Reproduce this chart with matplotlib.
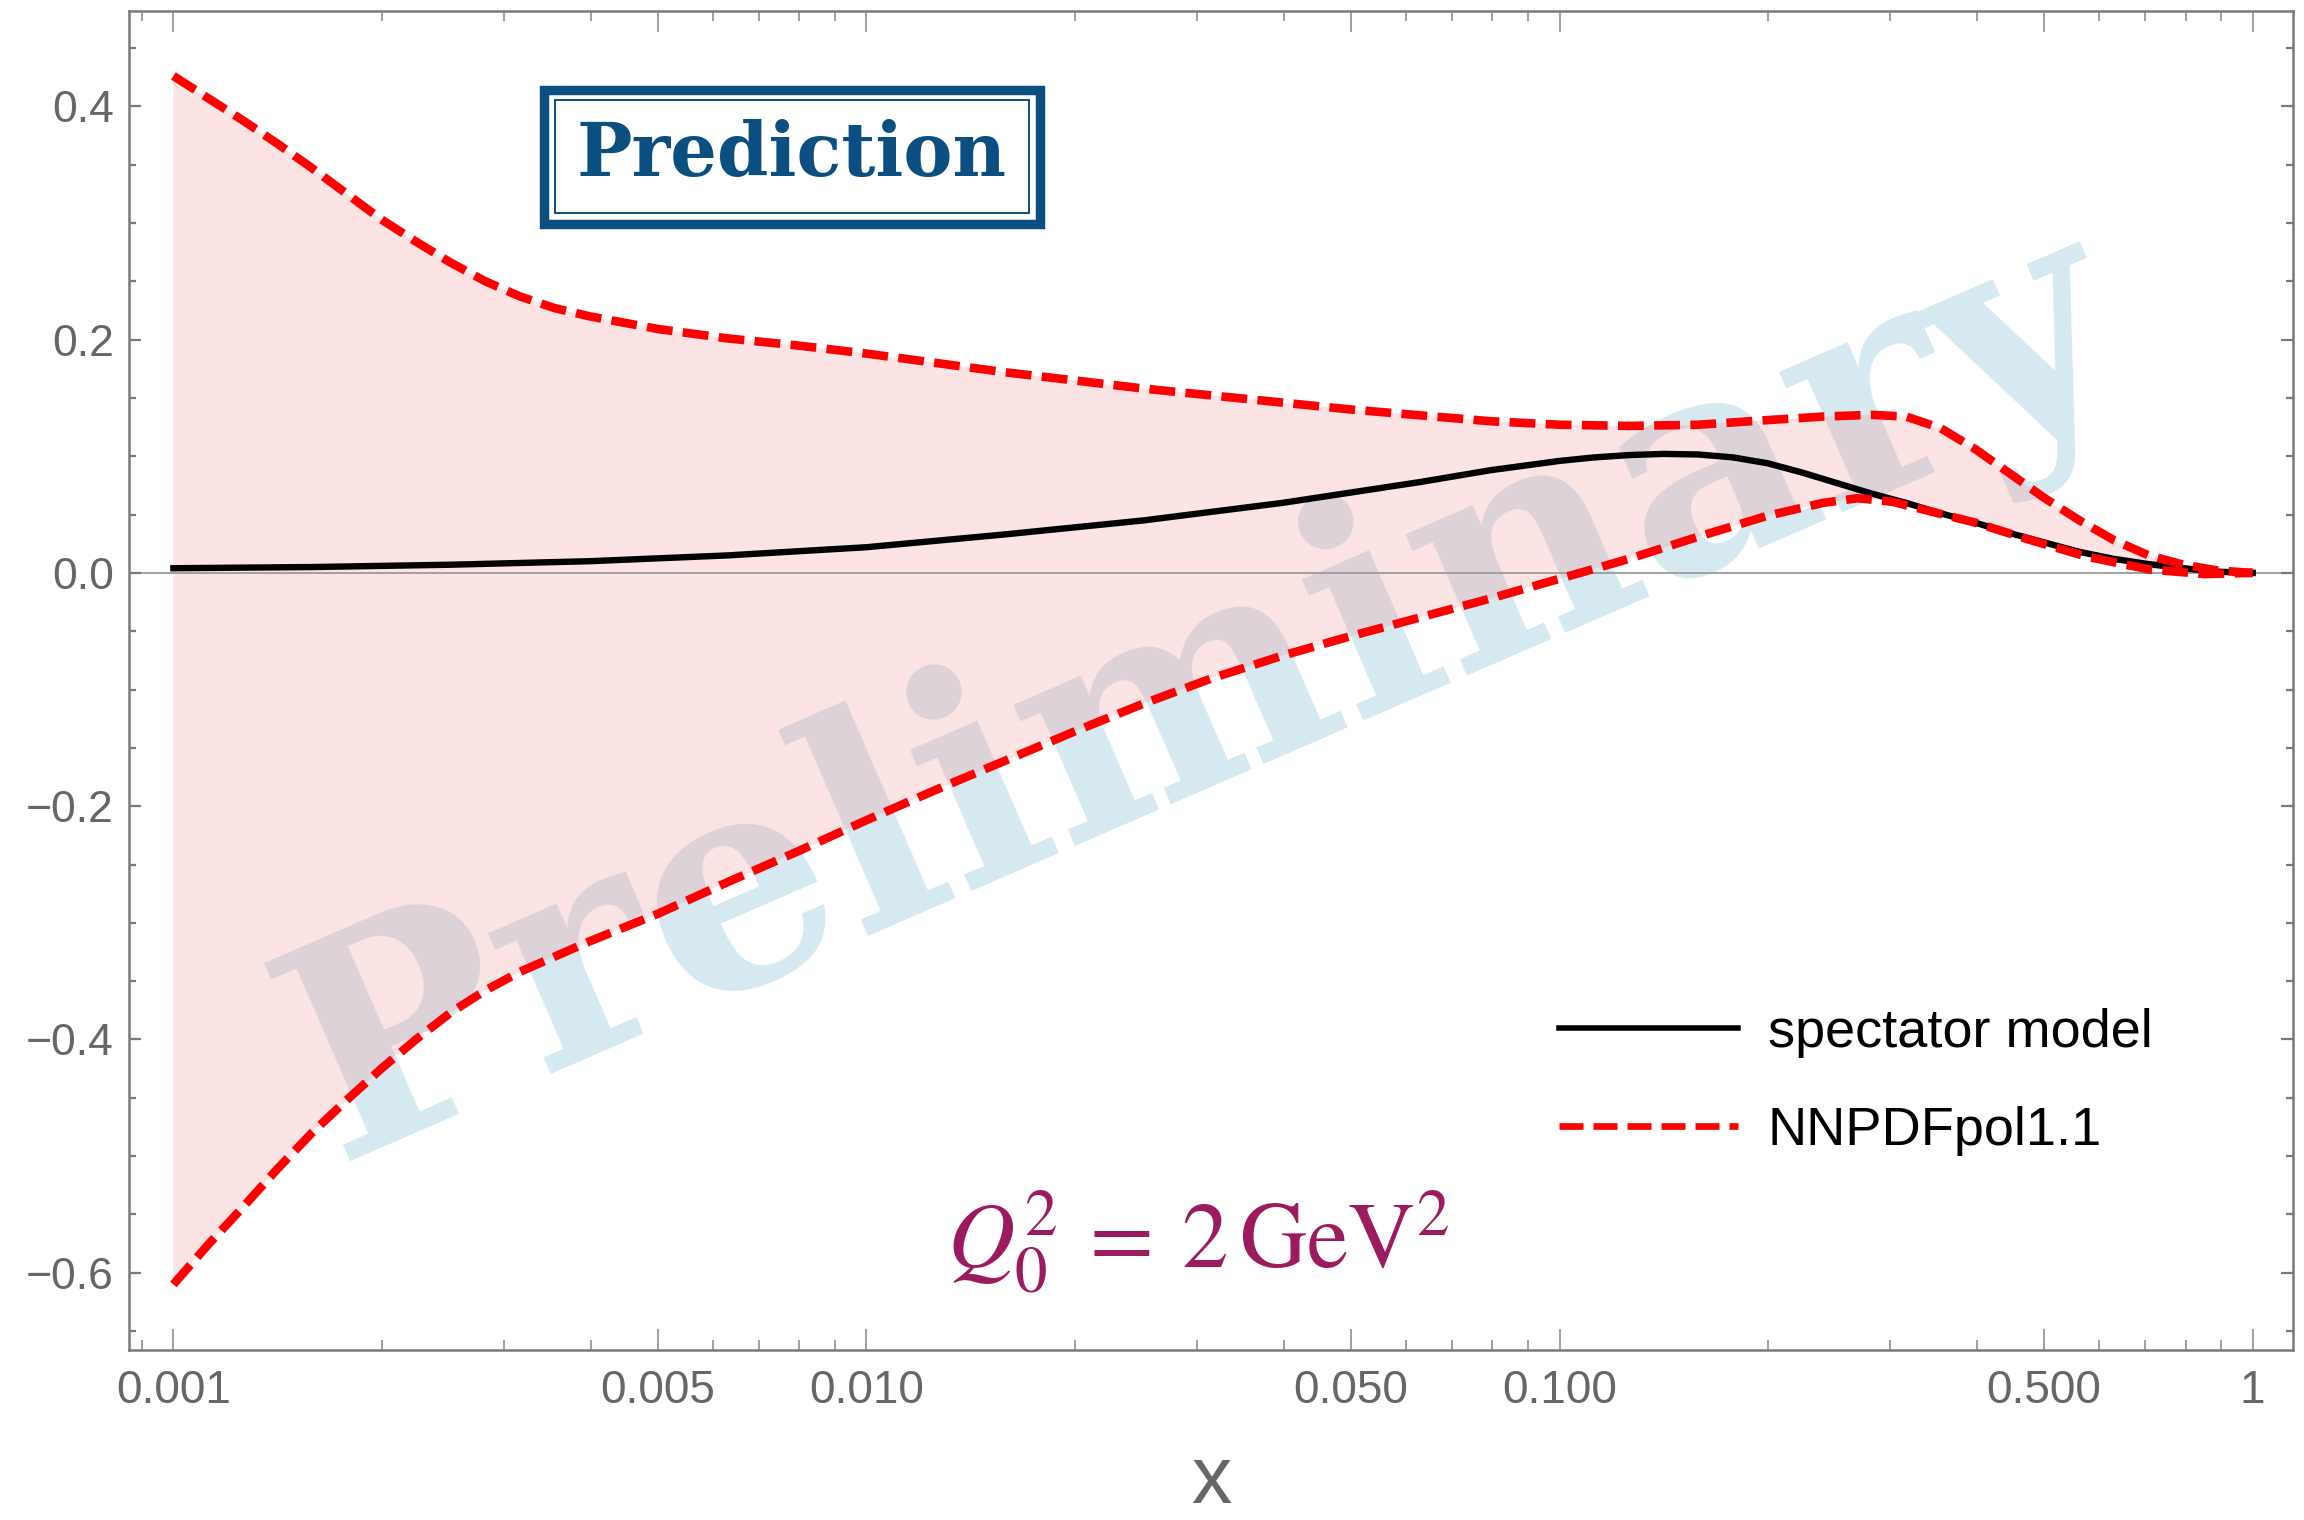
import numpy as np
import matplotlib
matplotlib.use('Agg')
import matplotlib.pyplot as plt
from matplotlib.lines import Line2D
from matplotlib.patches import Rectangle
from matplotlib.ticker import FixedLocator, FixedFormatter, NullFormatter

plt.rcParams['font.family'] = ['Liberation Sans', 'DejaVu Sans']
plt.rcParams['mathtext.fontset'] = 'stix'

# NNPDFpol1.1 band, upper edge (log10 x, value)
logx_up = [-3.00, -2.95, -2.90, -2.85, -2.80, -2.75, -2.70, -2.65, -2.60, -2.55,
           -2.50, -2.45, -2.40, -2.30, -2.20, -2.10, -2.00, -1.90, -1.80, -1.70,
           -1.60, -1.50, -1.40, -1.30, -1.20, -1.10, -1.00, -0.90, -0.80, -0.70,
           -0.62, -0.55, -0.50, -0.45, -0.40, -0.35, -0.30, -0.25, -0.20, -0.15,
           -0.10, -0.05, 0.00]
upper = [0.426, 0.407, 0.388, 0.368, 0.347, 0.325, 0.303, 0.284, 0.266, 0.250,
         0.237, 0.227, 0.220, 0.209, 0.201, 0.195, 0.188, 0.180, 0.172, 0.165,
         0.158, 0.152, 0.146, 0.140, 0.135, 0.130, 0.127, 0.126, 0.127, 0.131,
         0.134, 0.1355, 0.134, 0.124, 0.106, 0.085, 0.064, 0.045, 0.028, 0.015,
         0.007, 0.002, 0.000]

# NNPDFpol1.1 band, lower edge
logx_lo = [-3.00, -2.95, -2.90, -2.85, -2.80, -2.75, -2.70, -2.65, -2.60, -2.55,
           -2.50, -2.45, -2.40, -2.30, -2.20, -2.10, -2.00, -1.90, -1.80, -1.70,
           -1.60, -1.50, -1.40, -1.30, -1.20, -1.10, -1.00, -0.90, -0.80, -0.70,
           -0.62, -0.57, -0.52, -0.48, -0.40, -0.32, -0.24, -0.15, -0.07, 0.00]
lower = [-0.610, -0.576, -0.544, -0.511, -0.480, -0.452, -0.425, -0.400, -0.377, -0.358,
         -0.342, -0.329, -0.316, -0.292, -0.265, -0.239, -0.212, -0.186, -0.161, -0.136,
         -0.112, -0.090, -0.071, -0.054, -0.038, -0.022, -0.005, 0.012, 0.031, 0.049,
         0.060, 0.064, 0.061, 0.055, 0.043, 0.028, 0.014, 0.003, -0.001, 0.000]

# spectator model
logx_model = [-3.00, -2.80, -2.60, -2.40, -2.20, -2.00, -1.80, -1.60, -1.40, -1.20,
              -1.10, -1.00, -0.95, -0.90, -0.85, -0.80, -0.75, -0.70, -0.65, -0.60,
              -0.55, -0.50, -0.45, -0.40, -0.35, -0.30, -0.25, -0.20, -0.15, -0.10,
              -0.05, 0.00]
model = [0.004, 0.005, 0.007, 0.010, 0.015, 0.022, 0.033, 0.045, 0.060, 0.078,
         0.088, 0.096, 0.099, 0.101, 0.102, 0.1015, 0.099, 0.094, 0.086, 0.077,
         0.068, 0.060, 0.051, 0.043, 0.034, 0.026, 0.018, 0.012, 0.0075, 0.004,
         0.001, 0.000]

x_major = [0.001, 0.005, 0.01, 0.05, 0.1, 0.5, 1]
x_major_labels = ['0.001', '0.005', '0.010', '0.050', '0.100', '0.500', '1']
x_minor = [0.0009, 0.002, 0.003, 0.004, 0.006, 0.007, 0.008, 0.009,
           0.02, 0.03, 0.04, 0.06, 0.07, 0.08, 0.09,
           0.2, 0.3, 0.4, 0.6, 0.7, 0.8, 0.9]
y_major = [-0.6, -0.4, -0.2, 0.0, 0.2, 0.4]

x_up = 10 ** np.array(logx_up)
x_lo = 10 ** np.array(logx_lo)
x_model = 10 ** np.array(logx_model)

fig = plt.figure(figsize=(11.52, 7.6), dpi=200)
ax = fig.add_axes([0.056, 0.112, 0.9392, 0.881])
ax.set_xscale('log')
ax.set_xlim(0.000863, 1.143)
ax.set_ylim(-0.666, 0.482)

# watermark under the band
ax.text(0.4965, 0.487, 'Preliminary', transform=ax.transAxes, rotation=23.5,
        ha='center', va='center', rotation_mode='anchor',
        fontsize=107, fontweight='bold', family='DejaVu Serif',
        color='#d6e9f0', zorder=0.5)

# band
ax.fill(np.concatenate([x_up, x_lo[::-1]]), np.concatenate([upper, lower[::-1]]),
        color='#f57878', alpha=0.2, lw=0, zorder=1)
ax.axhline(0, color='#a0a0a0', lw=0.7, zorder=1.5)

ax.plot(x_model, model, color='black', lw=2.3, zorder=3)
ax.plot(x_up, upper, color='#ff0000', lw=3.1, dashes=(3.0, 1.2), zorder=4)
ax.plot(x_lo, lower, color='#ff0000', lw=3.1, dashes=(3.0, 1.2), zorder=4)

# axes styling
ax.xaxis.set_major_locator(FixedLocator(x_major))
ax.xaxis.set_major_formatter(FixedFormatter(x_major_labels))
ax.xaxis.set_minor_locator(FixedLocator(x_minor))
ax.xaxis.set_minor_formatter(NullFormatter())
ax.yaxis.set_major_locator(FixedLocator(y_major))
ax.yaxis.set_minor_locator(FixedLocator(np.arange(-0.65, 0.48, 0.05)))
ax.yaxis.set_major_formatter(plt.FuncFormatter(lambda v, p: f'{v:.1f}'.replace('-', '\u2212')))

for s in ax.spines.values():
    s.set_color('#7a7a7a')
    s.set_linewidth(0.9)
ax.tick_params(axis='x', which='major', direction='in', length=7.6, width=0.6,
               color='#909090', top=True, labelsize=16.5, labelcolor='#666666', pad=7)
ax.tick_params(axis='x', which='minor', direction='in', length=3.6, width=0.6,
               color='#909090', top=True)
ax.tick_params(axis='y', which='major', direction='in', length=4.3, width=0.8,
               color='#7a7a7a', right=True, labelsize=16, labelcolor='#666666', pad=5.5)
ax.tick_params(axis='y', which='minor', direction='in', length=2.5, width=0.8,
               color='#7a7a7a', right=True)
ax.set_xlabel('x', fontsize=29, color='#666666', labelpad=11)

# legend
handles = [Line2D([], [], color='black', lw=2.0),
           Line2D([], [], color='#ff0000', lw=2.4, dashes=(3.6, 1.5))]
ax.legend(handles, ['spectator model', 'NNPDFpol1.1'], loc='upper left',
          bbox_to_anchor=(0.661, 0.255), frameon=False, fontsize=19.5,
          handlelength=3.3, handletextpad=0.55, labelspacing=0.88,
          borderpad=0, borderaxespad=0)

# Q0^2 label
ax.text(0.494, 0.061, r'$Q_0^2\:=\:2\,\mathrm{GeV}^2$', transform=ax.transAxes,
        ha='center', va='baseline', fontsize=33.5, color='#9b1b5e', zorder=5)

# Prediction stamp
ax.add_patch(Rectangle((0.192, 0.841), 0.229, 0.100, transform=ax.transAxes,
                       fill=True, fc='white', ec='#0b4f80', lw=3.4, zorder=6))
ax.add_patch(Rectangle((0.197, 0.849), 0.219, 0.084, transform=ax.transAxes,
                       fill=False, ec='#0b4f80', lw=0.7, zorder=6))
ax.text(0.3064, 0.8915, 'Prediction', transform=ax.transAxes, ha='center', va='center',
        fontsize=26.5, fontweight='bold', family='DejaVu Serif', color='#0b4f80', zorder=7)

fig.savefig('out.png', dpi=200)
